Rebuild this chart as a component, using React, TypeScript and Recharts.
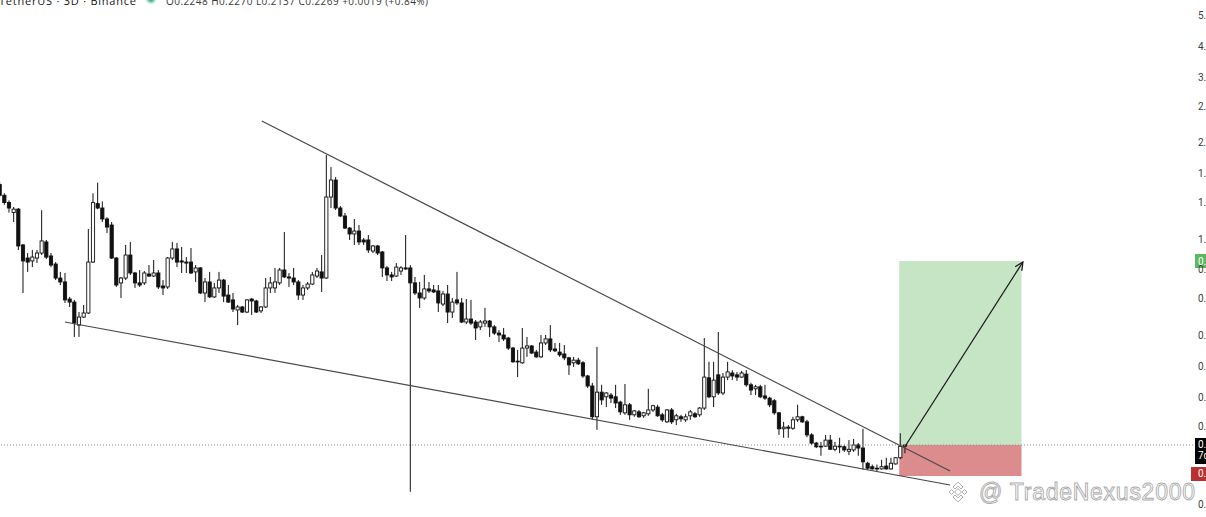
import React from "react";
import {
  ComposedChart,
  Bar,
  XAxis,
  YAxis,
  ReferenceLine,
  ReferenceArea,
} from "recharts";

// 3D candles, oldest first
const OPENS = [
  1.48, 1.37, 1.30, 1.21, 1.24, 0.958, 0.872, 0.854, 0.872, 0.904,
  0.979, 0.885, 0.835, 0.755, 0.734, 0.649, 0.635, 0.538, 0.570, 0.587,
  0.847, 1.29, 1.25, 1.155, 1.106, 0.872, 0.729, 0.755, 0.891, 0.783,
  0.729, 0.729, 0.777, 0.766, 0.783, 0.713, 0.708, 0.872, 0.931, 0.854,
  0.847, 0.847, 0.789, 0.812, 0.678, 0.734, 0.659, 0.703, 0.744, 0.668,
  0.645, 0.600, 0.613, 0.591, 0.649, 0.640, 0.596, 0.613, 0.703, 0.703,
  0.729, 0.800, 0.761, 0.755, 0.734, 0.668, 0.703, 0.723, 0.766, 0.789,
  0.755, 1.353, 1.529, 1.25, 1.18, 1.082, 1.037, 1.059, 0.993, 0.993,
  0.917, 0.951, 0.911, 0.812, 0.772, 0.766, 0.794, 0.812, 0.812, 0.729,
  0.678, 0.654, 0.698, 0.693, 0.688, 0.626, 0.673, 0.591, 0.645, 0.631,
  0.550, 0.562, 0.550, 0.531, 0.546, 0.554, 0.531, 0.508, 0.501, 0.490,
  0.456, 0.415, 0.410, 0.456, 0.463, 0.443, 0.428, 0.473, 0.487, 0.453,
  0.443, 0.437, 0.425, 0.410, 0.418, 0.410, 0.373, 0.347, 0.278, 0.332,
  0.321, 0.325, 0.321, 0.309, 0.286, 0.303, 0.282, 0.288, 0.280, 0.284,
  0.292, 0.298, 0.282, 0.268, 0.292, 0.272, 0.278, 0.272, 0.280, 0.284,
  0.282, 0.296, 0.368, 0.321, 0.376, 0.330, 0.370, 0.381, 0.376, 0.370,
  0.378, 0.350, 0.340, 0.345, 0.323, 0.318, 0.312, 0.286, 0.255, 0.258,
  0.256, 0.272, 0.278, 0.268, 0.244, 0.230, 0.225, 0.225, 0.235, 0.220,
  0.225, 0.224, 0.217, 0.219, 0.227, 0.222, 0.199, 0.194, 0.192, 0.191,
  0.195, 0.191, 0.198, 0.207, 0.2248,
];
const HIGHS = [
  1.51, 1.39, 1.32, 1.26, 1.25, 0.965, 0.904, 0.924, 0.924, 1.23,
  0.993, 0.904, 0.847, 0.789, 0.783, 0.659, 0.645, 0.591, 0.622, 1.075,
  1.39, 1.50, 1.31, 1.17, 1.13, 0.878, 0.761, 0.958, 0.979, 0.789,
  0.800, 0.794, 0.829, 0.860, 0.800, 0.744, 0.878, 0.979, 0.972, 0.944,
  0.878, 0.937, 0.829, 0.817, 0.755, 0.789, 0.729, 0.789, 0.750, 0.718,
  0.678, 0.622, 0.617, 0.649, 0.654, 0.645, 0.617, 0.755, 0.761, 0.812,
  0.812, 1.052, 0.783, 0.812, 0.744, 0.718, 0.734, 0.789, 0.812, 0.891,
  1.831, 1.679, 1.563, 1.268, 1.206, 1.090, 1.155, 1.106, 1.007, 1.029,
  0.958, 0.958, 0.917, 0.823, 0.789, 0.841, 0.823, 1.029, 0.829, 0.761,
  0.734, 0.772, 0.734, 0.718, 0.718, 0.688, 0.718, 0.654, 0.789, 0.654,
  0.649, 0.645, 0.558, 0.558, 0.609, 0.558, 0.538, 0.519, 0.527, 0.494,
  0.460, 0.450, 0.527, 0.494, 0.466, 0.450, 0.501, 0.501, 0.538, 0.473,
  0.473, 0.466, 0.428, 0.428, 0.425, 0.415, 0.376, 0.355, 0.460, 0.350,
  0.332, 0.330, 0.350, 0.312, 0.352, 0.307, 0.292, 0.292, 0.288, 0.340,
  0.303, 0.303, 0.286, 0.294, 0.296, 0.284, 0.282, 0.284, 0.292, 0.288,
  0.298, 0.490, 0.413, 0.413, 0.512, 0.381, 0.413, 0.389, 0.384, 0.387,
  0.389, 0.355, 0.350, 0.350, 0.350, 0.321, 0.316, 0.288, 0.268, 0.262,
  0.278, 0.303, 0.280, 0.272, 0.247, 0.232, 0.232, 0.244, 0.244, 0.232,
  0.239, 0.227, 0.235, 0.237, 0.230, 0.255, 0.201, 0.197, 0.197, 0.204,
  0.207, 0.207, 0.208, 0.247, 0.2270,
];
const LOWS = [
  1.35, 1.28, 1.21, 1.13, 0.924, 0.678, 0.789, 0.817, 0.841, 0.891,
  0.866, 0.817, 0.744, 0.718, 0.631, 0.613, 0.494, 0.494, 0.566, 0.583,
  0.841, 1.24, 1.13, 1.044, 0.866, 0.708, 0.654, 0.744, 0.772, 0.703,
  0.708, 0.718, 0.761, 0.761, 0.698, 0.668, 0.698, 0.860, 0.817, 0.783,
  0.783, 0.777, 0.734, 0.673, 0.635, 0.654, 0.654, 0.678, 0.635, 0.631,
  0.591, 0.538, 0.587, 0.587, 0.579, 0.587, 0.587, 0.609, 0.678, 0.678,
  0.718, 0.755, 0.708, 0.718, 0.645, 0.645, 0.693, 0.718, 0.755, 0.683,
  0.750, 1.250, 1.232, 1.172, 1.075, 0.993, 0.958, 0.958, 0.958, 0.904,
  0.904, 0.891, 0.761, 0.739, 0.739, 0.761, 0.772, 0.800, 0.162, 0.668,
  0.609, 0.645, 0.678, 0.678, 0.591, 0.617, 0.546, 0.566, 0.622, 0.546,
  0.542, 0.538, 0.483, 0.519, 0.531, 0.494, 0.501, 0.476, 0.480, 0.450,
  0.410, 0.370, 0.407, 0.428, 0.437, 0.425, 0.425, 0.466, 0.443, 0.443,
  0.428, 0.418, 0.376, 0.398, 0.404, 0.368, 0.342, 0.272, 0.253, 0.303,
  0.298, 0.307, 0.296, 0.282, 0.282, 0.272, 0.278, 0.276, 0.276, 0.280,
  0.288, 0.278, 0.268, 0.266, 0.264, 0.262, 0.268, 0.268, 0.272, 0.276,
  0.278, 0.292, 0.318, 0.298, 0.325, 0.325, 0.362, 0.362, 0.360, 0.368,
  0.345, 0.325, 0.325, 0.318, 0.314, 0.298, 0.282, 0.244, 0.239, 0.239,
  0.253, 0.268, 0.266, 0.240, 0.227, 0.222, 0.210, 0.224, 0.219, 0.217,
  0.214, 0.216, 0.211, 0.216, 0.210, 0.190, 0.190, 0.190, 0.188, 0.190,
  0.190, 0.190, 0.197, 0.205, 0.2137,
];
const CLOSES = [
  1.37, 1.30, 1.25, 1.24, 0.951, 0.854, 0.847, 0.878, 0.904, 0.986,
  0.878, 0.829, 0.755, 0.734, 0.645, 0.635, 0.546, 0.570, 0.587, 0.847,
  1.30, 1.25, 1.155, 1.09, 0.872, 0.718, 0.755, 0.891, 0.783, 0.729,
  0.718, 0.783, 0.766, 0.783, 0.708, 0.703, 0.872, 0.931, 0.847, 0.847,
  0.841, 0.783, 0.812, 0.678, 0.734, 0.659, 0.703, 0.744, 0.663, 0.635,
  0.604, 0.613, 0.591, 0.645, 0.640, 0.591, 0.613, 0.703, 0.729, 0.734,
  0.800, 0.761, 0.755, 0.734, 0.668, 0.703, 0.723, 0.772, 0.794, 0.755,
  1.353, 1.529, 1.250, 1.180, 1.082, 1.037, 1.059, 0.979, 0.979, 0.924,
  0.951, 0.904, 0.812, 0.772, 0.761, 0.817, 0.812, 0.806, 0.729, 0.678,
  0.654, 0.698, 0.688, 0.683, 0.631, 0.673, 0.591, 0.635, 0.631, 0.550,
  0.562, 0.546, 0.527, 0.550, 0.554, 0.531, 0.508, 0.501, 0.487, 0.456,
  0.413, 0.413, 0.456, 0.463, 0.440, 0.428, 0.473, 0.487, 0.450, 0.447,
  0.434, 0.425, 0.404, 0.418, 0.407, 0.373, 0.347, 0.278, 0.332, 0.314,
  0.330, 0.318, 0.307, 0.288, 0.303, 0.282, 0.290, 0.278, 0.286, 0.292,
  0.301, 0.280, 0.272, 0.292, 0.268, 0.280, 0.274, 0.278, 0.288, 0.278,
  0.296, 0.370, 0.321, 0.362, 0.330, 0.370, 0.384, 0.373, 0.370, 0.381,
  0.350, 0.337, 0.345, 0.321, 0.318, 0.303, 0.286, 0.255, 0.258, 0.256,
  0.272, 0.278, 0.268, 0.244, 0.230, 0.224, 0.224, 0.235, 0.220, 0.225,
  0.224, 0.219, 0.220, 0.227, 0.222, 0.201, 0.192, 0.191, 0.191, 0.194,
  0.191, 0.199, 0.207, 0.2248, 0.2269,
];

// price axis (log)
const PRICE_TICKS = [5.0, 4.0, 3.2, 2.6, 2.0, 1.6, 1.3, 1.0, 0.8, 0.65, 0.5, 0.4, 0.32, 0.26, 0.148];
const PRICE_DOMAIN = [0.1351, 5.59];
const BAR_DOMAIN = [0, 256.3];

// drawings: falling wedge + long position
const WEDGE_TOP = [{ x: 56.1, y: 2.339 }, { x: 203.6, y: 0.1882 }];
const WEDGE_BOTTOM = [{ x: 13.9, y: 0.55 }, { x: 203.6, y: 0.1701 }];
const ENTRY = 0.2269;
const TARGET = 0.8535;
const STOP = 0.1815;
const POSITION_FROM = 192.7;
const POSITION_TO = 218.9;
const PROJECTION = [{ x: 194.0, y: 0.2253 }, { x: 219.2, y: 0.8474 }];

const candles = OPENS.map((open, i) => ({
  i,
  open,
  high: HIGHS[i],
  low: LOWS[i],
  close: CLOSES[i],
}));

const AXIS_FONT = "Roboto, 'Open Sans', sans-serif";

const Candle = (props: any) => {
  const { x, y, width, height, payload } = props;
  if (height == null || isNaN(y)) return null;
  const cx = x + width / 2;
  const { open, close, high, low } = payload;
  const span = Math.log(high) - Math.log(low);
  const at = (v: number) =>
    span > 0 ? y + ((Math.log(high) - Math.log(v)) / span) * height : y;
  const top = at(Math.max(open, close));
  const bottom = at(Math.min(open, close));
  const up = close >= open;
  return (
    <g>
      <line x1={cx} x2={cx} y1={y} y2={y + height} stroke="#111" strokeWidth={1} />
      <rect
        x={cx - 1.6}
        y={top}
        width={3.2}
        height={Math.max(bottom - top, 0.8)}
        fill={up ? "#fff" : "#111"}
        stroke="#111"
        strokeWidth={0.9}
      />
    </g>
  );
};

const PriceTick = (props: any) => {
  const { x, y, payload } = props;
  return (
    <text x={x} y={y} dy={3.5} fontSize={10} fill="#3d3d3d" fontFamily={AXIS_FONT}>
      {Number(payload.value).toFixed(4)}
    </text>
  );
};

const PriceTag = (props: any) => {
  const { viewBox, bg, lines, left = 0, shift = 0 } = props;
  const right = viewBox.x + viewBox.width;
  const h = lines.length > 1 ? 26 : 14;
  const top = viewBox.y - 7 + shift;
  return (
    <g>
      <rect x={right - 1 - left} y={top} width={20 + left} height={h} fill={bg} />
      {lines.map((t: string, n: number) => (
        <text
          key={t}
          x={right + 2}
          y={top + 10.5 + n * 11}
          fontSize={10}
          fill="#fff"
          fontFamily={AXIS_FONT}
        >
          {t}
        </text>
      ))}
    </g>
  );
};

const ArrowLine = (props: any) => {
  const { x1, y1, x2, y2 } = props;
  const ang = Math.atan2(y2 - y1, x2 - x1);
  const len = 9;
  const a1 = ang + Math.PI - 0.45;
  const a2 = ang + Math.PI + 0.45;
  return (
    <g stroke="#1c1c1c" strokeWidth={1.3} fill="none">
      <line x1={x1} y1={y1} x2={x2} y2={y2} />
      <polyline
        points={`${x2 + len * Math.cos(a1)},${y2 + len * Math.sin(a1)} ${x2},${y2} ${
          x2 + len * Math.cos(a2)
        },${y2 + len * Math.sin(a2)}`}
      />
    </g>
  );
};

export default function App() {
  return (
    <div style={{ position: "absolute", left: 0, top: 0, width: 1206, height: 517, background: "#fff" }}>
      <ComposedChart
        width={1206}
        height={517}
        data={candles}
        margin={{ top: 0, right: 0, bottom: 0, left: 0 }}
      >
        <XAxis dataKey="i" type="number" domain={BAR_DOMAIN} allowDataOverflow hide />
        <YAxis
          orientation="right"
          type="number"
          scale="log"
          domain={PRICE_DOMAIN}
          allowDataOverflow
          ticks={PRICE_TICKS}
          width={10}
          tickSize={0}
          tickMargin={2}
          axisLine={false}
          tickLine={false}
          tick={<PriceTick />}
          interval={0}
        />
        <ReferenceArea
          x1={POSITION_FROM}
          x2={POSITION_TO}
          y1={ENTRY}
          y2={TARGET}
          fill="#c6e5c5"
          fillOpacity={1}
          stroke="none"
        />
        <ReferenceArea
          x1={POSITION_FROM}
          x2={POSITION_TO}
          y1={STOP}
          y2={ENTRY}
          fill="#dd8c8d"
          fillOpacity={1}
          stroke="none"
        />
        <ReferenceLine
          y={ENTRY}
          stroke="#8c8c8c"
          strokeDasharray="1 2"
          label={<PriceTag bg="#000" lines={["0.2269", "7d 14h"]} />}
        />
        <ReferenceLine
          y={TARGET}
          stroke="none"
          label={<PriceTag bg="#5db760" lines={["0.8535"]} />}
        />
        <ReferenceLine
          y={STOP}
          stroke="none"
          label={<PriceTag bg="#b9302e" lines={["0.1815"]} left={4} shift={-2} />}
        />
        <ReferenceLine segment={WEDGE_TOP} stroke="#4a4a4a" strokeWidth={1.2} ifOverflow="visible" />
        <ReferenceLine segment={WEDGE_BOTTOM} stroke="#4a4a4a" strokeWidth={1.2} ifOverflow="visible" />
        <Bar
          dataKey={(d: any) => [d.low, d.high]}
          shape={<Candle />}
          barSize={4}
          isAnimationActive={false}
        />
        <ReferenceLine segment={PROJECTION} shape={ArrowLine} ifOverflow="visible" />
      </ComposedChart>

      <svg
        width={1206}
        height={517}
        style={{ position: "absolute", left: 0, top: 0, pointerEvents: "none" }}
      >
        <text x={-1} y={5} fontSize={11} fill="#131722" fontFamily="'Open Sans', sans-serif" textLength={137}>
          TetherUS · 3D · Binance
        </text>
        <circle cx={151} cy={-1} r={5} fill="#b5e4d7" />
        <circle cx={151} cy={-1} r={3} fill="#44b892" />
        <text x={166} y={5} fontSize={10} fill="#3a3a3a" fontFamily="'Open Sans', sans-serif" textLength={262}>
          O0.2248 H0.2270 L0.2137 C0.2269 +0.0019 (+0.84%)
        </text>

        <g opacity={0.85}>
          <g transform="translate(958,492)" fill="#fff" stroke="#a3a3a3" strokeWidth={1}>
            <path d="M0,-3.5 L3.5,0 L0,3.5 L-3.5,0 Z" />
            <path d="M-9,0 L-6.5,-2.5 L-4,0 L-6.5,2.5 Z" />
            <path d="M9,0 L6.5,-2.5 L4,0 L6.5,2.5 Z" />
            <path d="M-5,-5 L0,-10 L5,-5 L3,-3 L0,-6 L-3,-3 Z" />
            <path d="M-5,5 L0,10 L5,5 L3,3 L0,6 L-3,3 Z" />
          </g>
          <text
            x={979}
            y={500}
            fontSize={23}
            fill="#fff"
            stroke="#9c9c9c"
            strokeWidth={0.9}
            fontFamily="'Liberation Sans', Arial, sans-serif"
            textLength={216}
          >
            @ TradeNexus2000
          </text>
        </g>
      </svg>
    </div>
  );
}
